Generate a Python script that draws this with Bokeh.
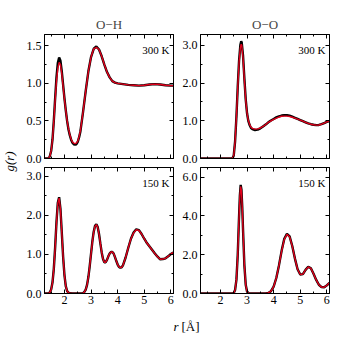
import numpy as np
from bokeh.plotting import figure
from bokeh.layouts import row, column
from bokeh.models import Range1d, LinearAxis, FixedTicker, PrintfTickFormatter, Label
from bokeh.embed import file_html
from bokeh.resources import INLINE

FONT = "Liberation Serif"
RED = "#e0001b"

# ---------------- data ----------------
panel_titles = ["O\u2212H", "O\u2212O"]
temps = ["300 K", "150 K"]
x_major = [2, 3, 4, 5, 6]
x_minor = [1.5, 2.5, 3.5, 4.5, 5.5]
XMIN, XMAX = 1.25, 6.1

# O-H, 300 K
r_oh300 = [1.25, 1.30, 1.35, 1.40, 1.45, 1.50, 1.55, 1.60, 1.65, 1.70, 1.75, 1.80, 1.85, 1.90,
           1.95, 2.00, 2.05, 2.10, 2.15, 2.20, 2.25, 2.30, 2.35, 2.40, 2.45, 2.50, 2.55, 2.60,
           2.70, 2.80, 2.90, 3.00, 3.10, 3.20, 3.30, 3.40, 3.50, 3.60, 3.70, 3.80, 3.90, 4.00,
           4.20, 4.40, 4.60, 4.80, 5.00, 5.20, 5.40, 5.60, 5.80, 6.00, 6.10]
g_oh300_ref = [0.0, 0.0, 0.0, 0.0, 0.03, 0.10, 0.25, 0.50, 0.80, 1.08, 1.27, 1.345, 1.30, 1.16,
               0.98, 0.80, 0.64, 0.50, 0.39, 0.31, 0.25, 0.21, 0.19, 0.185, 0.19, 0.22, 0.28, 0.36,
               0.62, 0.90, 1.16, 1.35, 1.46, 1.49, 1.45, 1.36, 1.25, 1.15, 1.08, 1.03, 1.01, 1.00,
               0.99, 0.98, 0.975, 0.97, 0.975, 0.985, 0.99, 0.985, 0.975, 0.97, 0.97]
g_oh300_ml = [0.0, 0.0, 0.0, 0.0, 0.03, 0.10, 0.25, 0.49, 0.78, 1.03, 1.20, 1.28, 1.25, 1.13,
              0.96, 0.79, 0.64, 0.50, 0.40, 0.32, 0.26, 0.22, 0.205, 0.20, 0.205, 0.23, 0.29, 0.37,
              0.62, 0.90, 1.16, 1.35, 1.46, 1.48, 1.45, 1.36, 1.25, 1.15, 1.08, 1.03, 1.01, 1.00,
              0.99, 0.98, 0.975, 0.97, 0.975, 0.985, 0.99, 0.985, 0.975, 0.97, 0.97]

# O-O, 300 K
r_oo300 = [1.25, 2.40, 2.45, 2.50, 2.55, 2.60, 2.65, 2.70, 2.75, 2.78, 2.80, 2.85, 2.90, 2.95,
           3.00, 3.05, 3.10, 3.15, 3.20, 3.30, 3.40, 3.50, 3.60, 3.70, 3.80, 3.90, 4.00, 4.10,
           4.20, 4.30, 4.40, 4.50, 4.60, 4.70, 4.80, 4.90, 5.00, 5.10, 5.20, 5.30, 5.40, 5.50,
           5.60, 5.70, 5.80, 5.90, 6.00, 6.10]
g_oo300_ref = [0.0, 0.0, 0.0, 0.08, 0.45, 1.10, 1.90, 2.60, 3.02, 3.11, 3.08, 2.72, 2.12, 1.57,
               1.20, 0.99, 0.88, 0.81, 0.78, 0.755, 0.765, 0.80, 0.85, 0.90, 0.96, 1.01, 1.05, 1.09,
               1.12, 1.14, 1.15, 1.15, 1.135, 1.11, 1.08, 1.05, 1.02, 0.99, 0.96, 0.93, 0.91, 0.895,
               0.885, 0.89, 0.91, 0.94, 0.97, 0.99]
g_oo300_ml = [0.0, 0.0, 0.0, 0.08, 0.45, 1.10, 1.88, 2.56, 2.95, 3.03, 3.01, 2.66, 2.08, 1.55,
              1.20, 1.00, 0.90, 0.83, 0.80, 0.78, 0.785, 0.81, 0.85, 0.90, 0.96, 1.00, 1.04, 1.07,
              1.10, 1.12, 1.125, 1.125, 1.115, 1.095, 1.07, 1.045, 1.02, 0.99, 0.96, 0.93, 0.91, 0.895,
              0.885, 0.89, 0.91, 0.94, 0.97, 0.99]

# O-H, 150 K
r_oh150 = [1.25, 1.40, 1.45, 1.50, 1.55, 1.60, 1.65, 1.70, 1.75, 1.80, 1.85, 1.90, 1.95, 2.00,
           2.05, 2.10, 2.15, 2.20, 2.30, 2.60, 2.70, 2.75, 2.80, 2.85, 2.90, 2.95, 3.00, 3.05,
           3.10, 3.15, 3.20, 3.25, 3.30, 3.35, 3.40, 3.45, 3.50, 3.55, 3.60, 3.65, 3.70, 3.75,
           3.80, 3.85, 3.90, 3.95, 4.00, 4.05, 4.10, 4.15, 4.20, 4.30, 4.40, 4.50, 4.60, 4.70,
           4.80, 4.90, 5.00, 5.10, 5.20, 5.30, 5.40, 5.50, 5.60, 5.70, 5.80, 5.90, 6.00, 6.10]
g_oh150_ref = [0.0, 0.0, 0.03, 0.10, 0.28, 0.63, 1.18, 1.82, 2.32, 2.46, 2.16, 1.56, 0.94, 0.47,
               0.19, 0.065, 0.02, 0.005, 0.0, 0.0, 0.01, 0.04, 0.10, 0.22, 0.42, 0.70, 1.02, 1.33,
               1.58, 1.73, 1.77, 1.70, 1.52, 1.28, 1.05, 0.88, 0.80, 0.80, 0.86, 0.95, 1.02, 1.06,
               1.06, 1.02, 0.93, 0.83, 0.74, 0.68, 0.66, 0.67, 0.72, 0.92, 1.17, 1.40, 1.56, 1.64,
               1.62, 1.52, 1.40, 1.29, 1.20, 1.11, 1.02, 0.94, 0.875, 0.88, 0.90, 0.95, 1.01, 1.05]
g_oh150_ml = [0.0, 0.0, 0.03, 0.10, 0.28, 0.63, 1.17, 1.80, 2.30, 2.44, 2.15, 1.56, 0.94, 0.47,
              0.19, 0.065, 0.02, 0.005, 0.0, 0.0, 0.01, 0.04, 0.10, 0.22, 0.42, 0.70, 1.02, 1.32,
              1.57, 1.72, 1.76, 1.69, 1.52, 1.28, 1.05, 0.88, 0.80, 0.80, 0.86, 0.95, 1.02, 1.06,
              1.06, 1.02, 0.93, 0.83, 0.74, 0.68, 0.66, 0.67, 0.72, 0.92, 1.17, 1.40, 1.55, 1.63,
              1.61, 1.52, 1.40, 1.29, 1.20, 1.11, 1.02, 0.94, 0.875, 0.88, 0.90, 0.95, 1.01, 1.05]

# O-O, 150 K
r_oo150 = [1.25, 2.45, 2.50, 2.55, 2.60, 2.65, 2.70, 2.73, 2.76, 2.79, 2.82, 2.85, 2.90, 2.95,
           3.00, 3.05, 3.10, 3.70, 3.80, 3.90, 4.00, 4.10, 4.20, 4.30, 4.40, 4.50, 4.60, 4.70,
           4.80, 4.90, 5.00, 5.10, 5.20, 5.30, 5.40, 5.50, 5.60, 5.70, 5.80, 5.90, 6.00, 6.10]
g_oo150_ref = [0.0, 0.0, 0.03, 0.18, 0.70, 2.00, 4.00, 5.05, 5.60, 5.35, 4.45, 3.25, 1.45, 0.45,
               0.10, 0.02, 0.0, 0.0, 0.03, 0.12, 0.35, 0.80, 1.45, 2.20, 2.82, 3.08, 2.95, 2.45,
               1.80, 1.25, 0.98, 1.00, 1.22, 1.38, 1.30, 1.02, 0.70, 0.45, 0.33, 0.32, 0.42, 0.55]
g_oo150_ml = [0.0, 0.0, 0.03, 0.18, 0.70, 2.00, 3.97, 5.00, 5.52, 5.30, 4.42, 3.24, 1.45, 0.45,
              0.10, 0.02, 0.0, 0.0, 0.03, 0.12, 0.35, 0.80, 1.44, 2.18, 2.79, 3.05, 2.93, 2.44,
              1.80, 1.25, 0.98, 1.00, 1.22, 1.37, 1.30, 1.02, 0.70, 0.45, 0.33, 0.32, 0.42, 0.55]

y_max = [[1.65, 3.29], [3.22, 6.5]]
y_major = [[[0, 0.5, 1.0, 1.5], [0, 1, 2, 3]], [[0, 1, 2, 3], [0, 2, 4, 6]]]
y_minor = [[[0.25, 0.75, 1.25], [0.5, 1.5, 2.5]], [[0.5, 1.5, 2.5], [1, 3, 5]]]


def style_axis(ax, show_labels, standoff=3):
    ax.axis_line_color = "black"
    ax.axis_line_width = 1
    ax.major_tick_line_color = "black"
    ax.minor_tick_line_color = "black"
    ax.major_tick_in = 4
    ax.major_tick_out = 0
    ax.minor_tick_in = 2
    ax.minor_tick_out = 0
    if show_labels:
        ax.major_label_text_font = FONT
        ax.major_label_text_font_size = "12px"
        ax.major_label_text_color = "black"
        ax.major_label_standoff = standoff
    else:
        ax.major_label_text_color = None
        ax.major_label_text_font_size = "0px"
        ax.major_label_standoff = 0


def make_panel(r, g_ref, g_ml, i, j, w, h, lb, rb, tb, bb):
    p = figure(width=w, height=h, x_range=Range1d(XMIN, XMAX), y_range=Range1d(0, y_max[i][j]),
               x_axis_type=None, y_axis_type=None, toolbar_location=None,
               output_backend="svg", min_border_left=lb, min_border_right=rb,
               min_border_top=tb, min_border_bottom=bb,
               title=panel_titles[j] if i == 0 else None)
    p.outline_line_color = "black"
    p.outline_line_width = 1
    p.background_fill_color = "white"
    p.border_fill_color = "white"
    if i == 0:
        p.title.align = "center"
        p.title.text_font = FONT
        p.title.text_font_style = "normal"
        p.title.text_font_size = "13px"
        p.title.standoff = 6
    for loc in ["below", "above"]:
        ax = LinearAxis(ticker=FixedTicker(ticks=x_major, minor_ticks=x_minor))
        style_axis(ax, loc == "below" and i == 1, standoff=2)
        p.add_layout(ax, loc)
    for loc in ["left", "right"]:
        ax = LinearAxis(ticker=FixedTicker(ticks=y_major[i][j], minor_ticks=y_minor[i][j]),
                        formatter=PrintfTickFormatter(format="%.1f"))
        style_axis(ax, loc == "left", standoff=3)
        p.add_layout(ax, loc)
    p.line(r, g_ref, line_color="black", line_width=2.4)
    p.line(r, g_ml, line_color=RED, line_width=1.4)
    p.add_layout(Label(x=XMAX, y=y_max[i][j], x_offset=-4, y_offset=-9, text=temps[i],
                       text_align="right", text_baseline="top", text_font=FONT,
                       text_font_size="11px", text_color="black"))
    return p


tl = make_panel(r_oh300, g_oh300_ref, g_oh300_ml, 0, 0, 160, 165, 26, 5, 34, 7)
tr = make_panel(r_oo300, g_oo300_ref, g_oo300_ml, 0, 1, 156, 165, 22, 5, 34, 7)
bl = make_panel(r_oh150, g_oh150_ref, g_oh150_ml, 1, 0, 160, 144, 26, 5, 2, 16)
br = make_panel(r_oo150, g_oo150_ref, g_oo150_ml, 1, 1, 156, 144, 22, 5, 2, 16)

# shared y label
ylab = figure(width=18, height=336, x_range=Range1d(0, 18), y_range=Range1d(0, 336),
              x_axis_type=None, y_axis_type=None, toolbar_location=None,
              output_backend="svg", min_border=0)
ylab.outline_line_color = None
ylab.add_layout(Label(x=9, y=175, text="g(r)", angle=np.pi / 2, text_align="center",
                      text_baseline="middle", text_font=FONT, text_font_style="italic",
                      text_font_size="13px", text_color="black"))

# shared x label
xlab = figure(width=316, height=27, x_range=Range1d(0, 316), y_range=Range1d(0, 27),
              x_axis_type=None, y_axis_type=None, toolbar_location=None,
              output_backend="svg", min_border=0)
xlab.outline_line_color = None
xlab.add_layout(Label(x=160, y=10, text="r", text_align="right", text_baseline="alphabetic",
                      text_font=FONT, text_font_style="italic", text_font_size="13px",
                      text_color="black"))
xlab.add_layout(Label(x=163, y=10, text="[\u00c5]", text_align="left", text_baseline="alphabetic",
                      text_font=FONT, text_font_size="13px", text_color="black"))

layout = row(ylab, column(row(tl, tr), row(bl, br), xlab))

open("out.html", "w").write(file_html(layout, INLINE))
